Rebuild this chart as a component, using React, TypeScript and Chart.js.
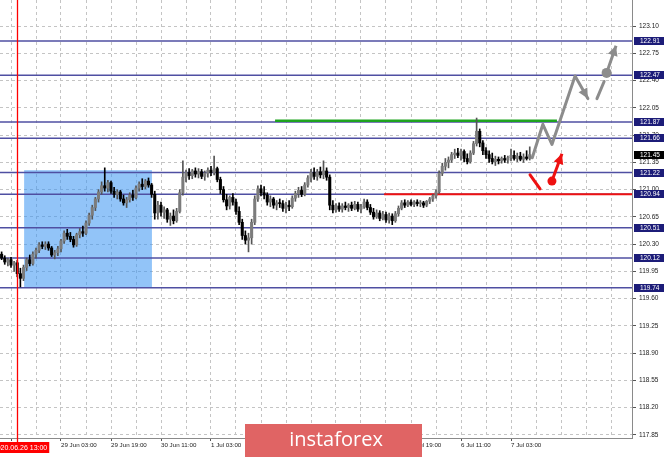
import React, { useEffect, useRef } from 'react';
import { Chart, registerables } from 'chart.js';

Chart.register(...registerables);

// ---- candle data (H1 bars, index 0 = 26 Jun 11:00) ----
const firstCandleIndex = -3;
const opens = [
  120.17,120.12,120.07,120.10,120.03,120.06,119.92,119.86,120.00,120.10,
  120.05,120.17,120.22,120.29,120.27,120.30,120.25,120.16,120.19,120.24,
  120.34,120.44,120.40,120.36,120.29,120.42,120.46,120.44,120.57,120.67,
  120.77,120.88,120.97,121.05,121.02,121.09,120.98,120.94,120.97,120.88,
  120.83,120.87,120.93,120.90,121.02,121.07,121.04,121.11,121.06,120.94,
  120.70,120.80,120.71,120.74,120.62,120.66,120.60,120.72,120.96,121.16,
  121.22,121.18,121.24,121.20,121.23,121.17,121.21,121.25,121.22,121.27,
  121.13,121.00,120.87,120.79,120.90,120.84,120.72,120.58,120.41,120.35,
  120.38,120.58,120.88,121.01,120.96,120.93,120.84,120.88,120.80,120.83,
  120.82,120.76,120.80,120.78,120.89,120.95,120.99,120.94,121.06,121.15,
  121.22,121.17,121.23,121.19,121.24,121.16,120.80,120.74,120.79,120.75,
  120.79,120.77,120.80,120.76,120.81,120.75,120.78,120.84,120.77,120.71,
  120.65,120.70,120.63,120.68,120.61,120.66,120.60,120.69,120.76,120.83,
  120.80,120.84,120.81,120.84,120.82,120.83,120.80,120.85,120.88,120.92,
  120.97,121.21,121.30,121.35,121.38,121.45,121.47,121.44,121.49,121.40,
  121.36,121.47,121.59,121.75,121.60,121.50,121.45,121.40,121.36,121.39,
  121.37,121.40,121.38,121.41,121.44,121.40,121.43,121.39,121.42,121.40,
];
const highs = [
  120.20,120.15,120.12,120.13,120.08,120.09,119.99,120.03,120.12,120.16,
  120.20,120.25,120.32,120.33,120.33,120.33,120.27,120.22,120.27,120.36,
  120.47,120.49,120.45,120.40,120.44,120.50,120.53,120.60,120.70,120.80,
  120.90,121.00,121.10,121.28,121.12,121.11,121.03,121.00,120.99,120.93,
  120.90,120.96,120.99,121.05,121.10,121.14,121.13,121.15,121.08,120.98,
  120.85,120.84,120.78,120.76,120.70,120.74,120.76,121.00,121.37,121.25,
  121.27,121.26,121.28,121.27,121.26,121.24,121.28,121.30,121.43,121.29,
  121.16,121.04,120.94,120.92,120.95,120.88,120.78,120.62,120.47,120.44,
  120.62,120.92,121.05,121.06,121.04,120.96,120.92,120.90,120.86,120.88,
  120.86,120.84,120.86,120.92,120.98,121.03,121.04,121.09,121.18,121.26,
  121.28,121.26,121.29,121.37,121.28,121.19,120.86,120.82,120.83,120.82,
  120.84,120.82,120.84,120.85,120.84,120.81,120.88,120.87,120.81,120.76,
  120.74,120.73,120.72,120.71,120.70,120.69,120.72,120.79,120.86,120.87,
  120.86,120.87,120.86,120.87,120.86,120.85,120.86,120.90,120.94,121.00,
  121.24,121.34,121.40,121.42,121.48,121.52,121.53,121.52,121.51,121.46,
  121.50,121.62,121.92,121.78,121.63,121.54,121.50,121.47,121.43,121.42,
  121.42,121.44,121.43,121.52,121.50,121.47,121.48,121.46,121.50,121.55,
];
const lows = [
  120.10,120.04,120.02,120.00,119.95,119.88,119.75,119.83,119.96,120.02,
  120.03,120.12,120.19,120.24,120.23,120.22,120.14,120.11,120.15,120.20,
  120.31,120.36,120.33,120.26,120.27,120.38,120.40,120.42,120.54,120.62,
  120.73,120.84,120.94,120.98,120.97,120.95,120.90,120.88,120.85,120.80,
  120.77,120.84,120.86,120.88,120.98,121.00,121.01,121.03,120.90,120.62,
  120.62,120.66,120.63,120.58,120.54,120.56,120.58,120.70,120.93,121.10,
  121.13,121.14,121.16,121.15,121.14,121.12,121.16,121.18,121.19,121.10,
  120.95,120.84,120.74,120.75,120.80,120.68,120.55,120.36,120.30,120.20,
  120.30,120.55,120.85,120.92,120.88,120.80,120.78,120.76,120.74,120.77,
  120.72,120.70,120.73,120.76,120.85,120.90,120.91,120.92,121.03,121.10,
  121.13,121.12,121.15,121.14,121.12,120.74,120.70,120.71,120.72,120.71,
  120.74,120.72,120.73,120.74,120.72,120.70,120.76,120.74,120.68,120.62,
  120.63,120.60,120.61,120.58,120.57,120.55,120.58,120.66,120.74,120.77,
  120.78,120.79,120.78,120.79,120.78,120.77,120.78,120.82,120.85,120.89,
  120.95,121.18,121.25,121.28,121.35,121.40,121.41,121.38,121.36,121.33,
  121.34,121.45,121.56,121.55,121.45,121.40,121.35,121.33,121.31,121.33,
  121.34,121.35,121.34,121.37,121.38,121.36,121.37,121.35,121.38,121.38,
];
const closes = [
  120.12,120.07,120.10,120.03,120.06,119.92,119.86,120.00,120.10,120.05,
  120.17,120.22,120.29,120.27,120.30,120.25,120.16,120.19,120.24,120.34,
  120.44,120.40,120.36,120.29,120.42,120.46,120.44,120.57,120.67,120.77,
  120.88,120.97,121.05,121.02,121.09,120.98,120.94,120.97,120.88,120.83,
  120.87,120.93,120.90,121.02,121.07,121.04,121.11,121.06,120.94,120.70,
  120.80,120.71,120.74,120.62,120.66,120.60,120.72,120.96,121.16,121.22,
  121.18,121.24,121.20,121.23,121.17,121.21,121.25,121.22,121.27,121.13,
  121.00,120.87,120.79,120.90,120.84,120.72,120.58,120.41,120.35,120.38,
  120.58,120.88,121.01,120.96,120.93,120.84,120.88,120.80,120.83,120.82,
  120.76,120.80,120.78,120.89,120.95,120.99,120.94,121.06,121.15,121.22,
  121.17,121.23,121.19,121.24,121.16,120.80,120.74,120.79,120.75,120.79,
  120.77,120.80,120.76,120.81,120.75,120.78,120.84,120.77,120.71,120.65,
  120.70,120.63,120.68,120.61,120.66,120.60,120.69,120.76,120.83,120.80,
  120.84,120.81,120.84,120.82,120.83,120.80,120.85,120.88,120.92,120.97,
  121.21,121.30,121.35,121.38,121.45,121.47,121.44,121.49,121.40,121.36,
  121.47,121.59,121.75,121.60,121.50,121.45,121.40,121.36,121.39,121.37,
  121.40,121.38,121.41,121.44,121.40,121.43,121.39,121.42,121.40,121.45,
];

// ---- axes ----
const xMinIndex = -3.52;
const xMaxIndex = 198.72;
const yMinPrice = 117.808;
const yMaxPrice = 123.437;
const yTickValues = [117.85,118.20,118.55,118.90,119.25,119.60,119.95,120.30,120.65,121.00,121.35,121.70,122.05,122.40,122.75,123.10];
const xTickIndices = [0,8,16,24,32,40,48,56,64,72,80,88,96,104,112,120,128,136,144,152,160,168,176,184,192];
const xTickLabels = ['26 Jun 11:00','','29 Jun 03:00','','29 Jun 19:00','','30 Jun 11:00','','1 Jul 03:00','','1 Jul 19:00','','2 Jul 11:00','','3 Jul 03:00','','5 Jul 19:00','','6 Jul 11:00','','7 Jul 03:00','','','',''];

// ---- levels & annotations ----
const levelPrices = [122.91, 122.47, 121.87, 121.66, 121.22, 120.94, 120.51, 120.12, 119.74];
const currentPrice = 121.45;
const greenLineIdx = [84.5, 174.7];
const greenLinePrice = 121.885;
const redLineIdx = [119.4, xMaxIndex];
const redLinePrice = 120.94;
const zoneIdx = [4.2, 45.1];
const zonePrice = [119.74, 121.25];
const markerIdx = 2;
const markerLabel = '2020.06.26 13:00';
const grayPathIdx = [166.8, 170.2, 173.1, 180.5, 184.6];
const grayPathPrice = [121.41, 121.84, 121.58, 122.46, 122.17];
const graySegIdx = [187.5, 189.8];
const graySegPrice = [122.17, 122.39];
const grayPivot = [190.6, 122.50];
const grayTip = [193.6, 122.85];
const redSegIdx = [166.1, 169.3];
const redSegPrice = [121.19, 121.01];
const redPivot = [173.1, 121.11];
const redTip = [176.3, 121.46];

function arrowHead(ctx: CanvasRenderingContext2D, fx: number, fy: number, tx: number, ty: number, len: number, half: number, color: string) {
  const a = Math.atan2(ty - fy, tx - fx);
  const bx = tx - len * Math.cos(a);
  const by = ty - len * Math.sin(a);
  ctx.beginPath();
  ctx.moveTo(tx, ty);
  ctx.lineTo(bx + half * Math.sin(a), by - half * Math.cos(a));
  ctx.lineTo(bx - half * Math.sin(a), by + half * Math.cos(a));
  ctx.closePath();
  ctx.fillStyle = color;
  ctx.fill();
}

const overlayPlugin = {
  id: 'overlay',
  beforeDatasetsDraw(chart: any) {
    const { ctx, scales } = chart;
    const x = scales.x, y = scales.y;
    const x0 = x.getPixelForValue(zoneIdx[0]);
    const x1 = x.getPixelForValue(zoneIdx[1]);
    const y0 = y.getPixelForValue(zonePrice[1]);
    const y1 = y.getPixelForValue(zonePrice[0]);
    ctx.save();
    ctx.fillStyle = 'rgba(60,150,243,0.56)';
    ctx.fillRect(x0, y0, x1 - x0, y1 - y0);
    ctx.restore();
  },
  afterDatasetsDraw(chart: any) {
    const { ctx, scales } = chart;
    const x = scales.x, y = scales.y;
    ctx.save();
    const n = grayPathIdx.length;
    arrowHead(ctx, x.getPixelForValue(grayPathIdx[n - 2]), y.getPixelForValue(grayPathPrice[n - 2]),
      x.getPixelForValue(grayPathIdx[n - 1]), y.getPixelForValue(grayPathPrice[n - 1]), 10, 5, '#8c8c8c');
    arrowHead(ctx, x.getPixelForValue(grayPivot[0]), y.getPixelForValue(grayPivot[1]),
      x.getPixelForValue(grayTip[0]), y.getPixelForValue(grayTip[1]), 10, 5, '#8c8c8c');
    ctx.beginPath();
    ctx.arc(x.getPixelForValue(grayPivot[0]), y.getPixelForValue(grayPivot[1]), 5, 0, Math.PI * 2);
    ctx.fillStyle = '#8c8c8c';
    ctx.fill();
    arrowHead(ctx, x.getPixelForValue(redPivot[0]), y.getPixelForValue(redPivot[1]),
      x.getPixelForValue(redTip[0]), y.getPixelForValue(redTip[1]), 10, 5, '#ee1111');
    ctx.beginPath();
    ctx.arc(x.getPixelForValue(redPivot[0]), y.getPixelForValue(redPivot[1]), 4.5, 0, Math.PI * 2);
    ctx.fillStyle = '#ee1111';
    ctx.fill();
    ctx.restore();
  },
  afterDraw(chart: any) {
    const { ctx, scales, chartArea } = chart;
    const x = scales.x, y = scales.y;
    ctx.save();
    // red time marker line
    const mx = Math.round(x.getPixelForValue(markerIdx)) + 0.5;
    ctx.setLineDash([]);
    ctx.globalAlpha = 1;
    ctx.strokeStyle = 'rgb(255,0,0)';
    ctx.lineWidth = 1.3;
    ctx.beginPath();
    ctx.moveTo(mx, chartArea.top);
    ctx.lineTo(mx, chartArea.bottom + 4);
    ctx.stroke();

    ctx.font = '6.5px "Liberation Sans"';
    ctx.textBaseline = 'middle';
    ctx.textAlign = 'left';
    const bx = chartArea.right + 2;
    const drawBox = (v: number, bg: string) => {
      const py = y.getPixelForValue(v);
      ctx.fillStyle = bg;
      ctx.fillRect(bx, Math.round(py) - 4, 30, 8);
      ctx.fillStyle = '#ffffff';
      ctx.fillText(v.toFixed(2), bx + 6, Math.round(py) + 0.5);
    };
    levelPrices.forEach((v) => drawBox(v, '#1c1c78'));
    drawBox(currentPrice, '#000000');
    const lx = x.getPixelForValue(markerIdx);
    ctx.fillStyle = '#ff0000';
    ctx.fillRect(0, chartArea.bottom + 4, lx + 32, 11);
    ctx.fillStyle = '#ffffff';
    ctx.textAlign = 'right';
    ctx.font = '7px "Liberation Sans"';
    ctx.fillText(markerLabel, lx + 30, chartArea.bottom + 10);
    ctx.fillStyle = 'rgb(224,100,100)';
    ctx.fillRect(245, 424, 177, 33);
    ctx.fillStyle = '#ffffff';
    ctx.textAlign = 'center';
    ctx.font = '20px "Open Sans"';
    ctx.fillText('instaforex', 336, 440);
    ctx.restore();
  },
};

export default function App() {
  const ref = useRef<HTMLCanvasElement>(null);
  useEffect(() => {
    const canvas = ref.current;
    if (!canvas) return;
    const xs = closes.map((_, k) => firstCandleIndex + k);
    const up = closes.map((c, k) => c >= opens[k]);
    const bodyColors = up.map((u) => (u ? '#7c7c7c' : '#000000'));
    const wickColors = up.map((u) => (u ? '#555555' : '#000000'));

    const datasets: any[] = [
      {
        type: 'bar', data: xs.map((xv, k) => ({ x: xv, y: [opens[k], closes[k]] })),
        backgroundColor: bodyColors, barThickness: 2.4, minBarLength: 1, grouped: false,
        borderWidth: 0, order: 0,
      },
      {
        type: 'bar', data: xs.map((xv, k) => ({ x: xv, y: [lows[k], highs[k]] })),
        backgroundColor: wickColors, barThickness: 1, grouped: false, borderWidth: 0, order: 1,
      },
      {
        type: 'line', data: grayPathIdx.map((xv, k) => ({ x: xv, y: grayPathPrice[k] })),
        borderColor: '#8c8c8c', borderWidth: 3, pointRadius: 0, borderCapStyle: 'round', borderJoinStyle: 'round', order: 2,
      },
      {
        type: 'line', data: graySegIdx.map((xv, k) => ({ x: xv, y: graySegPrice[k] })),
        borderColor: '#8c8c8c', borderWidth: 3, pointRadius: 0, borderCapStyle: 'round', order: 2,
      },
      {
        type: 'line', data: [{ x: grayPivot[0], y: grayPivot[1] }, { x: grayTip[0], y: grayTip[1] }],
        borderColor: '#8c8c8c', borderWidth: 3, pointRadius: 0, order: 2,
      },
      {
        type: 'line', data: redSegIdx.map((xv, k) => ({ x: xv, y: redSegPrice[k] })),
        borderColor: '#ee1111', borderWidth: 3, pointRadius: 0, borderCapStyle: 'round', order: 2,
      },
      {
        type: 'line', data: [{ x: redPivot[0], y: redPivot[1] }, { x: redTip[0], y: redTip[1] }],
        borderColor: '#ee1111', borderWidth: 3, pointRadius: 0, order: 2,
      },
      {
        type: 'line', data: greenLineIdx.map((xv) => ({ x: xv, y: greenLinePrice })),
        borderColor: '#1fa31f', borderWidth: 2.5, pointRadius: 0, order: 3,
      },
      {
        type: 'line', data: redLineIdx.map((xv) => ({ x: xv, y: redLinePrice })),
        borderColor: '#ee1111', borderWidth: 2, pointRadius: 0, order: 3,
      },
      ...levelPrices.map((v) => ({
        type: 'line', data: [{ x: xMinIndex, y: v }, { x: xMaxIndex, y: v }],
        borderColor: '#4f4fa2', borderWidth: 1.5, pointRadius: 0, order: 4,
      })),
    ];

    const chart = new Chart(canvas, {
      type: 'bar',
      data: { datasets },
      options: {
        animation: false,
        responsive: true,
        maintainAspectRatio: false,
        events: [],
        layout: { padding: 0 },
        plugins: { legend: { display: false }, tooltip: { enabled: false } },
        scales: {
          x: {
            type: 'linear',
            min: xMinIndex,
            max: xMaxIndex,
            offset: false,
            grid: {
              offset: false,
              color: '#c4c4c4',
              tickLength: 3,
              tickBorderDash: [],
              tickColor: (c: any) => (c.tick && c.tick.label ? '#555555' : 'rgba(0,0,0,0)'),
            },
            border: { color: '#8a8a8a', width: 1, dash: [3, 3] },
            afterBuildTicks: (s: any) => { s.ticks = xTickIndices.map((v) => ({ value: v })); },
            afterFit: (s: any) => { s.height = 19; s.paddingLeft = 0; s.paddingRight = 0; },
            ticks: {
              autoSkip: false,
              maxRotation: 0,
              minRotation: 0,
              align: 'start',
              padding: 1,
              color: '#222222',
              font: { family: '"Liberation Sans"', size: 6.2 },
              callback: (_v: any, i: number) => xTickLabels[i],
            },
          },
          y: {
            type: 'linear',
            position: 'right',
            min: yMinPrice,
            max: yMaxPrice,
            beginAtZero: false,
            grid: { color: '#c4c4c4', tickLength: 4, tickBorderDash: [], tickColor: '#555555' },
            border: { color: '#8a8a8a', width: 1, dash: [3, 3] },
            afterBuildTicks: (s: any) => { s.ticks = yTickValues.map((v) => ({ value: v })); },
            afterFit: (s: any) => { s.width = 33; s.paddingTop = 0; s.paddingBottom = 0; },
            ticks: {
              padding: 3,
              color: '#222222',
              font: { family: '"Liberation Sans"', size: 6.5 },
              callback: (v: any) => Number(v).toFixed(2),
            },
          },
        },
      },
      plugins: [overlayPlugin],
    } as any);
    return () => chart.destroy();
  }, []);

  return (
    <div style={{ position: 'absolute', left: 0, top: 0, width: 665, height: 457, background: '#ffffff' }}>
      <canvas ref={ref} />
    </div>
  );
}
